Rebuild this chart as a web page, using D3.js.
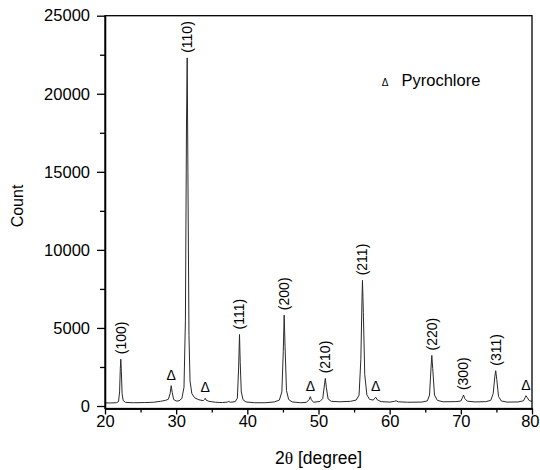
<!DOCTYPE html>
<html>
<head>
<meta charset="utf-8">
<script src="https://cdn.jsdelivr.net/npm/d3@7"></script>
<style>
  body { margin: 0; background: #fff; }
  text { font-family: "Liberation Sans", Arial, Helvetica, sans-serif; fill: #000; }
</style>
</head>
<body>
<script>
// scan: 2theta [degree] and count
const twoTheta = [20.0, 20.8, 21.6, 21.9, 22.05, 22.15, 22.22, 22.3, 22.4, 22.55, 22.9, 24.0, 25.5, 26.8, 27.8, 28.5, 28.9,
  29.15, 29.3, 29.45, 29.65, 30.0, 30.4, 30.8, 31.1, 31.3, 31.45, 31.55, 31.65, 31.8, 31.95, 32.2, 32.6, 33.2, 33.8, 34.0,
  34.08, 34.2, 34.6, 35.5, 36.5, 37.2, 37.4, 37.6, 38.3, 38.6, 38.78, 38.9, 39.0, 39.15, 39.4, 39.8, 41.0, 42.5, 43.8, 44.5,
  44.85, 45.05, 45.18, 45.3, 45.5, 45.8, 46.3, 47.5, 48.3, 48.7, 48.85, 49.0, 49.3, 50.2, 50.6, 50.85, 50.96, 51.1, 51.35,
  51.8, 53.0, 54.5, 55.3, 55.7, 55.95, 56.12, 56.18, 56.3, 56.5, 56.8, 57.2, 57.7, 57.95, 58.05, 58.25, 58.8, 60.0, 60.7,
  60.9, 61.2, 62.5, 64.5, 65.3, 65.6, 65.82, 65.92, 66.05, 66.3, 66.7, 67.5, 69.3, 70.0, 70.25, 70.38, 70.55, 70.9, 72.0,
  73.5, 74.2, 74.55, 74.78, 74.9, 75.05, 75.3, 75.7, 76.5, 78.0, 78.8, 79.05, 79.15, 79.3, 79.6, 80.0]
const counts = [200, 195, 210, 280, 900, 2400, 3000, 2200, 800, 350, 230, 210, 220, 240, 300, 360, 430,
  800, 1300, 850, 420, 320, 330, 480, 1200, 5500, 18000, 22300, 15000, 4500, 1600, 800, 520, 400, 340, 430,
  490, 380, 300, 240, 220, 250, 290, 240, 280, 500, 2500, 4580, 2800, 900, 400, 260, 210, 210, 260, 380,
  900, 3500, 5820, 3800, 1000, 420, 260, 210, 230, 420, 600, 400, 240, 290, 480, 1400, 1770, 1200, 450,
  300, 270, 300, 380, 700, 3000, 7000, 8050, 6000, 2000, 700, 420, 380, 520, 560, 400, 280, 250, 300,
  340, 270, 240, 250, 330, 700, 2500, 3240, 2400, 700, 360, 270, 280, 320, 560, 700, 480, 310, 260,
  280, 360, 800, 1900, 2260, 1700, 600, 320, 250, 260, 330, 560, 660, 560, 350, 290]

const peakLabels = ['(100)', '(110)', '(111)', '(200)', '(210)', '(211)', '(220)', '(300)', '(311)']
const peakPos = [22.22, 31.55, 38.9, 45.18, 50.96, 56.18, 65.92, 70.38, 74.9]
const pyroPos = [29.3, 34.08, 48.85, 58.05, 79.15]

const xTicks = [20, 30, 40, 50, 60, 70, 80]
const xMinor = [25, 35, 45, 55, 65, 75]
const yTicks = [0, 5000, 10000, 15000, 20000, 25000]
const yMinor = [2500, 7500, 12500, 17500, 22500]

const W = 540, H = 470
const m = { l: 105, r: 8, t: 15.7, b: 61.5 }

const svg = d3.select('body').append('svg')
  .attr('width', W).attr('height', H)

const x = d3.scaleLinear().domain([20, 80]).range([m.l, W - m.r])
const y = d3.scaleLinear().domain([-160, 25000]).range([H - m.b, m.t])

const data = twoTheta.map((t, i) => ({ t: t, c: counts[i] }))

svg.append('clipPath').attr('id', 'clip')
  .append('rect')
  .attr('x', m.l).attr('y', m.t)
  .attr('width', W - m.l - m.r).attr('height', H - m.t - m.b)

svg.append('path')
  .datum(data)
  .attr('clip-path', 'url(#clip)')
  .attr('fill', 'none')
  .attr('stroke', '#2a2a2a')
  .attr('stroke-width', 1)
  .attr('d', d3.line().x(d => x(d.t)).y(d => y(d.c)))

// axes
const fmt = d3.format('d')
const gx = svg.append('g').attr('transform', 'translate(0,' + (H - m.b) + ')')
gx.call(d3.axisBottom(x).tickValues(xTicks).tickFormat(fmt).tickSize(6).tickPadding(1).tickSizeOuter(0))
gx.append('g').call(d3.axisBottom(x).tickValues(xMinor).tickSize(4).tickFormat('').tickSizeOuter(0))

const gy = svg.append('g').attr('transform', 'translate(' + m.l + ',0)')
gy.call(d3.axisLeft(y).tickValues(yTicks).tickFormat(fmt).tickSize(8).tickPadding(7).tickSizeOuter(0))
gy.append('g').call(d3.axisLeft(y).tickValues(yMinor).tickSize(5).tickFormat('').tickSizeOuter(0))

svg.selectAll('.tick text')
  .attr('font-size', 16.5)
  .attr('font-family', '"Liberation Sans", Arial, sans-serif')
svg.selectAll('.domain, .tick line').attr('stroke', '#000').attr('stroke-width', 1.3)

// last x label sits against the right edge, keep it inside
gx.selectAll('.tick text').filter(d => d === 80)
  .attr('text-anchor', 'end').attr('x', W - 1 - x(80))

// frame
svg.append('rect')
  .attr('x', m.l).attr('y', m.t)
  .attr('width', W - m.l - m.r).attr('height', H - m.t - m.b)
  .attr('fill', 'none').attr('stroke', '#000').attr('stroke-width', 1.3)

// axis titles
const xt = svg.append('text')
  .attr('x', (m.l + W - m.r) / 2).attr('y', 464)
  .attr('text-anchor', 'middle').attr('font-size', 17.5)
xt.append('tspan').text('2')
xt.append('tspan').attr('font-family', '"Liberation Serif", "Times New Roman", serif').text('\u03b8')
xt.append('tspan').text(' [degree]')

svg.append('text')
  .attr('transform', 'translate(23,206) rotate(-90)')
  .attr('text-anchor', 'middle').attr('font-size', 16)
  .text('Count')

// local peak height from the scan
const peakTop = p => d3.max(data.filter(d => Math.abs(d.t - p) < 0.4), d => d.c)

svg.selectAll('.hkl')
  .data(peakLabels)
  .enter().append('text')
  .attr('class', 'hkl')
  .attr('font-size', 14)
  .attr('dy', '0.35em')
  .attr('transform', (d, i) => 'translate(' + x(peakPos[i]) + ',' + (y(peakTop(peakPos[i])) - 5) + ') rotate(-90)')
  .text(d => d)

svg.selectAll('.pyro')
  .data(pyroPos)
  .enter().append('text')
  .attr('class', 'pyro')
  .attr('font-family', '"Liberation Serif", "Times New Roman", serif')
  .attr('font-size', 14)
  .attr('text-anchor', 'middle')
  .attr('x', d => x(d))
  .attr('y', d => y(peakTop(d)) - 6)
  .text('\u0394')

// legend
svg.append('text')
  .attr('x', 385).attr('y', 86)
  .attr('text-anchor', 'middle').attr('font-size', 10)
  .text('\u0394')
svg.append('text')
  .attr('x', 401.5).attr('y', 86)
  .attr('font-size', 16.5)
  .text('Pyrochlore')
</script>
</body>
</html>
